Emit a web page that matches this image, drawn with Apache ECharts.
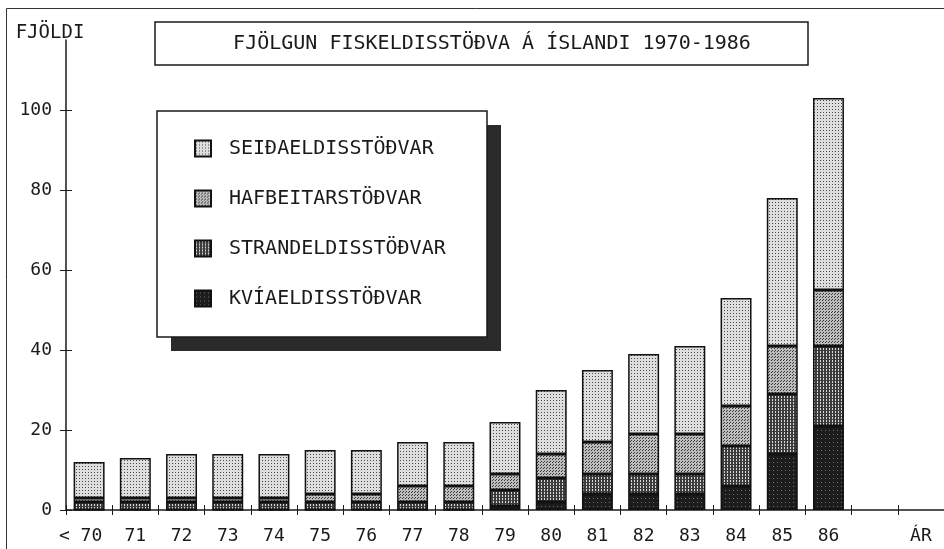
<!DOCTYPE html>
<html>
<head>
<meta charset="utf-8">
<script src="https://cdn.jsdelivr.net/npm/echarts@6/dist/echarts.min.js"></script>
<style>
  html, body { margin: 0; padding: 0; background: #fff; }
  #chart { width: 944px; height: 549px; }
</style>
</head>
<body>
<div id="chart"></div>
<script>
// Fjölgun fiskeldisstöðva á Íslandi 1970-1986
var years = ['< 70', '71', '72', '73', '74', '75', '76', '77', '78', '79', '80', '81', '82', '83', '84', '85', '86', '', 'ÁR'];
var kviaeldi    = [0, 0, 0, 0, 0, 0, 0, 0, 0, 1, 2, 4, 4, 4, 6, 14, 21, null, null];
var strandeldi  = [2, 2, 2, 2, 2, 2, 2, 2, 2, 4, 6, 5, 5, 5, 10, 15, 20, null, null];
var hafbeitar   = [1, 1, 1, 1, 1, 2, 2, 4, 4, 4, 6, 8, 10, 10, 10, 12, 14, null, null];
var seidaeldi   = [9, 10, 11, 11, 11, 11, 11, 11, 11, 13, 16, 18, 20, 22, 27, 37, 48, null, null];
var yTicks = [0, 20, 40, 60, 80, 100];

var FONT = '"DejaVu Sans Mono", "Liberation Mono", monospace';
var INK = '#1a1a1a';

// small dotted fills, like the old printer shading
function pattern(bg, fg, size, dots) {
    var c = document.createElement('canvas');
    c.width = size;
    c.height = size;
    var ctx = c.getContext('2d');
    ctx.fillStyle = bg;
    ctx.fillRect(0, 0, size, size);
    ctx.fillStyle = fg;
    dots.forEach(function (d) { ctx.fillRect(d[0], d[1], 1, 1); });
    return { image: c, repeat: 'repeat' };
}

var fillSeida  = pattern('#dedede', '#4a4a4a', 3, [[1, 1]]);
var fillHafb   = pattern('#bdbdbd', '#3a3a3a', 3, [[0, 0], [1, 2]]);
var fillStrand = pattern('#3c3c3c', '#d8d8d8', 3, [[1, 0], [1, 1]]);
var fillKvi    = pattern('#1c1c1c', '#707070', 4, [[1, 2]]);

function barSeries(name, data, fill) {
    return {
        name: name,
        type: 'bar',
        stack: 'total',
        data: data,
        barCategoryGap: '33%',
        itemStyle: { color: fill, borderColor: '#111', borderWidth: 1.5 },
        emphasis: { disabled: true }
    };
}

var chart = echarts.init(document.getElementById('chart'));
var option = {
    backgroundColor: '#fff',
    animation: false,
    title: {
        text: 'FJÖLGUN FISKELDISSTÖÐVA Á ÍSLANDI 1970-1986',
        left: 492,
        top: 34,
        padding: 0,
        textAlign: 'center',
        textStyle: { fontFamily: FONT, fontSize: 20, fontWeight: 'normal', color: INK }
    },
    legend: {
        data: ['SEIÐAELDISSTÖÐVAR', 'HAFBEITARSTÖÐVAR', 'STRANDELDISSTÖÐVAR', 'KVÍAELDISSTÖÐVAR'],
        orient: 'vertical',
        left: 194,
        top: 138,
        padding: 0,
        itemWidth: 16,
        itemHeight: 16,
        itemGap: 29,
        icon: 'rect',
        selectedMode: false,
        textStyle: { fontFamily: FONT, fontSize: 20, lineHeight: 21, color: INK, padding: [0, 0, 0, 13] }
    },
    grid: {
        left: 66,
        right: 0,
        top: 40,
        bottom: 39,
        containLabel: false,
        outerBoundsMode: 'none'
    },
    xAxis: [
        {
            type: 'category',
            position: 'bottom',
            data: years,
            axisLine: { lineStyle: { color: INK, width: 1.5 } },
            axisTick: { show: true, length: 5, interval: 0, lineStyle: { color: INK } },
            axisLabel: {
                interval: 0, margin: 17, fontFamily: FONT, fontSize: 18, color: INK,
                // keep the "70" over its bar, the "<" hangs to the left
                formatter: function (v) { return v.charAt(0) === '<' ? v + '{pad|}' : v; },
                rich: { pad: { width: 17 } }
            },
            splitLine: { show: false }
        },
        {
            // inner half of the crossing ticks
            type: 'category',
            position: 'bottom',
            data: years,
            axisLine: { show: false },
            axisTick: { show: true, inside: true, length: 5, interval: 0, lineStyle: { color: INK } },
            axisLabel: { show: false },
            splitLine: { show: false }
        }
    ],
    yAxis: [
        {
            type: 'value',
            min: 0,
            max: 117.5,
            interval: 20,
            name: 'FJÖLDI',
            nameLocation: 'end',
            nameGap: 7,
            nameTextStyle: { fontFamily: FONT, fontSize: 19, color: INK, align: 'center', verticalAlign: 'middle', padding: [0, 32, 0, 0] },
            axisLine: { show: true, lineStyle: { color: INK, width: 1.5 } },
            axisTick: { show: true, length: 6, customValues: yTicks, lineStyle: { color: INK } },
            axisLabel: {
                margin: 14, fontFamily: FONT, fontSize: 18, color: INK, customValues: yTicks,
                formatter: function (v) { return v % 20 === 0 ? String(v) : ''; }
            },
            splitLine: { show: false }
        },
        {
            type: 'value',
            position: 'left',
            min: 0,
            max: 117.5,
            interval: 20,
            axisLine: { show: false },
            axisTick: { show: true, inside: true, length: 6, customValues: yTicks, lineStyle: { color: INK } },
            axisLabel: { show: false },
            splitLine: { show: false }
        }
    ],
    graphic: [
        // page frame
        { type: 'rect', shape: { x: 6.5, y: 8.5, width: 1000, height: 600 }, style: { fill: 'none', stroke: '#333', lineWidth: 1 }, silent: true },
        // title box
        { type: 'rect', shape: { x: 155, y: 22, width: 653, height: 43 }, style: { fill: 'none', stroke: INK, lineWidth: 1.5 }, silent: true },
        // legend shadow and box
        { type: 'rect', shape: { x: 171, y: 125, width: 330, height: 226 }, style: { fill: '#2a2a2a' }, silent: true },
        { type: 'rect', shape: { x: 157, y: 111, width: 330, height: 226 }, style: { fill: '#fff', stroke: INK, lineWidth: 1.5 }, silent: true }
    ],
    series: [
        barSeries('KVÍAELDISSTÖÐVAR', kviaeldi, fillKvi),
        barSeries('STRANDELDISSTÖÐVAR', strandeldi, fillStrand),
        barSeries('HAFBEITARSTÖÐVAR', hafbeitar, fillHafb),
        barSeries('SEIÐAELDISSTÖÐVAR', seidaeldi, fillSeida)
    ]
};
chart.setOption(option);

window.onresize = chart.resize;
</script>
</body>
</html>
